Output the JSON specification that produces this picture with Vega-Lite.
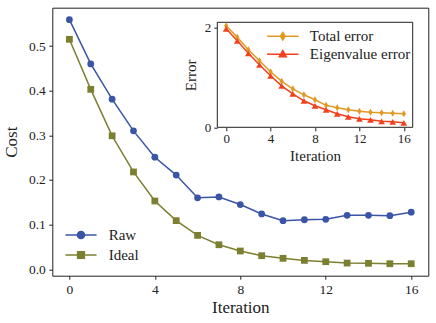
{
  "$schema": "https://vega.github.io/schema/vega-lite/v6.json",
  "width": 376,
  "height": 268,
  "autosize": "none",
  "padding": {"left": 52.3, "top": 7.7, "right": 7.7, "bottom": 47.3},
  "background": "white",
  "config": {
    "font": "Liberation Serif",
    "view": {"stroke": "#222", "strokeWidth": 1},
    "axis": {"domain": false, "grid": false, "tickColor": "#222", "labelColor": "#222", "titleColor": "#222", "titleFontWeight": "normal", "zindex": 1, "labelFont": "Liberation Serif", "titleFont": "Liberation Serif"},
    "legend": {"labelColor": "#222", "padding": 0, "rowPadding": 0, "titlePadding": 0, "labelFont": "Liberation Serif"}
  },
  "datasets": {
    "main": [
      {"iter": 0, "series": "Raw", "cost": 0.559}, {"iter": 1, "series": "Raw", "cost": 0.46}, {"iter": 2, "series": "Raw", "cost": 0.381},
      {"iter": 3, "series": "Raw", "cost": 0.31}, {"iter": 4, "series": "Raw", "cost": 0.251}, {"iter": 5, "series": "Raw", "cost": 0.211},
      {"iter": 6, "series": "Raw", "cost": 0.16}, {"iter": 7, "series": "Raw", "cost": 0.162}, {"iter": 8, "series": "Raw", "cost": 0.145},
      {"iter": 9, "series": "Raw", "cost": 0.124}, {"iter": 10, "series": "Raw", "cost": 0.109}, {"iter": 11, "series": "Raw", "cost": 0.111},
      {"iter": 12, "series": "Raw", "cost": 0.112}, {"iter": 13, "series": "Raw", "cost": 0.121}, {"iter": 14, "series": "Raw", "cost": 0.121},
      {"iter": 15, "series": "Raw", "cost": 0.12}, {"iter": 16, "series": "Raw", "cost": 0.128},
      {"iter": 0, "series": "Ideal", "cost": 0.515}, {"iter": 1, "series": "Ideal", "cost": 0.403}, {"iter": 2, "series": "Ideal", "cost": 0.299},
      {"iter": 3, "series": "Ideal", "cost": 0.218}, {"iter": 4, "series": "Ideal", "cost": 0.153}, {"iter": 5, "series": "Ideal", "cost": 0.109},
      {"iter": 6, "series": "Ideal", "cost": 0.076}, {"iter": 7, "series": "Ideal", "cost": 0.055}, {"iter": 8, "series": "Ideal", "cost": 0.041},
      {"iter": 9, "series": "Ideal", "cost": 0.0305}, {"iter": 10, "series": "Ideal", "cost": 0.0246}, {"iter": 11, "series": "Ideal", "cost": 0.02},
      {"iter": 12, "series": "Ideal", "cost": 0.017}, {"iter": 13, "series": "Ideal", "cost": 0.014}, {"iter": 14, "series": "Ideal", "cost": 0.0134},
      {"iter": 15, "series": "Ideal", "cost": 0.0125}, {"iter": 16, "series": "Ideal", "cost": 0.0125}
    ],
    "inset": [
      {"iter": 0, "series": "Total error", "error": 2.03}, {"iter": 1, "series": "Total error", "error": 1.8}, {"iter": 2, "series": "Total error", "error": 1.55},
      {"iter": 3, "series": "Total error", "error": 1.33}, {"iter": 4, "series": "Total error", "error": 1.11}, {"iter": 5, "series": "Total error", "error": 0.92},
      {"iter": 6, "series": "Total error", "error": 0.77}, {"iter": 7, "series": "Total error", "error": 0.65}, {"iter": 8, "series": "Total error", "error": 0.55},
      {"iter": 9, "series": "Total error", "error": 0.44}, {"iter": 10, "series": "Total error", "error": 0.39}, {"iter": 11, "series": "Total error", "error": 0.35},
      {"iter": 12, "series": "Total error", "error": 0.32}, {"iter": 13, "series": "Total error", "error": 0.3}, {"iter": 14, "series": "Total error", "error": 0.29},
      {"iter": 15, "series": "Total error", "error": 0.28}, {"iter": 16, "series": "Total error", "error": 0.27},
      {"iter": 0, "series": "Eigenvalue error", "error": 1.97}, {"iter": 1, "series": "Eigenvalue error", "error": 1.73}, {"iter": 2, "series": "Eigenvalue error", "error": 1.48},
      {"iter": 3, "series": "Eigenvalue error", "error": 1.25}, {"iter": 4, "series": "Eigenvalue error", "error": 1.03}, {"iter": 5, "series": "Eigenvalue error", "error": 0.83},
      {"iter": 6, "series": "Eigenvalue error", "error": 0.67}, {"iter": 7, "series": "Eigenvalue error", "error": 0.53}, {"iter": 8, "series": "Eigenvalue error", "error": 0.43},
      {"iter": 9, "series": "Eigenvalue error", "error": 0.35}, {"iter": 10, "series": "Eigenvalue error", "error": 0.27}, {"iter": 11, "series": "Eigenvalue error", "error": 0.21},
      {"iter": 12, "series": "Eigenvalue error", "error": 0.17}, {"iter": 13, "series": "Eigenvalue error", "error": 0.15}, {"iter": 14, "series": "Eigenvalue error", "error": 0.12},
      {"iter": 15, "series": "Eigenvalue error", "error": 0.11}, {"iter": 16, "series": "Eigenvalue error", "error": 0.09}
    ]
  },
  "layer": [
    {
      "data": {"name": "main"},
      "encoding": {
        "x": {"field": "iter", "type": "quantitative"},
        "y": {"field": "cost", "type": "quantitative"}
      },
      "layer": [
        {
          "transform": [{"filter": "datum.series === 'Raw'"}],
          "mark": {"type": "line", "strokeWidth": 1.5, "color": "#3a55a5"},
          "encoding": {
            "x": {"field": "iter", "type": "quantitative", "scale": {"domain": [-0.8, 16.8], "nice": false, "zero": false},
              "axis": {"orient": "bottom", "values": [0, 4, 8, 12, 16], "tickSize": 3.5, "labelPadding": 3, "labelFontSize": 13.5, "labelFont": "Liberation Serif", "title": "Iteration", "titleFontSize": 17, "titlePadding": 3.5}},
            "y": {"field": "cost", "type": "quantitative", "scale": {"domain": [-0.0143, 0.5858], "nice": false, "zero": false},
              "axis": {"orient": "left", "values": [0, 0.1, 0.2, 0.3, 0.4, 0.5], "format": ".1f", "tickSize": 3.5, "labelPadding": 3.5, "labelFontSize": 13.5, "labelFont": "Liberation Serif", "title": "Cost", "titleFontSize": 17, "titlePadding": 8}}
          }
        },
        {
          "transform": [{"filter": "datum.series === 'Ideal'"}],
          "mark": {"type": "line", "strokeWidth": 1.5, "color": "#7d7f30"}
        },
        {
          "transform": [{"filter": "datum.series === 'Raw'"}],
          "mark": {"type": "point", "shape": "circle", "filled": true, "opacity": 1, "size": 46, "color": "#3a55a5"}
        },
        {
          "transform": [{"filter": "datum.series === 'Ideal'"}],
          "mark": {"type": "point", "shape": "square", "filled": true, "opacity": 1, "size": 46, "color": "#7d7f30"}
        },
        {
          "transform": [{"filter": "false"}],
          "mark": {"type": "point", "filled": true, "opacity": 1, "size": 441, "strokeWidth": 1.5},
          "encoding": {
            "color": {"field": "series", "type": "nominal", "scale": {"domain": ["Raw", "Ideal"], "range": ["#3a55a5", "#7d7f30"]},
              "legend": {"title": null, "orient": "none", "legendX": 17.2, "legendY": 215.8, "labelFontSize": 15, "labelFont": "Liberation Serif", "labelOffset": 16.2, "symbolSize": 441, "symbolStrokeWidth": 1.5}},
            "stroke": {"field": "series", "type": "nominal", "scale": {"domain": ["Raw", "Ideal"], "range": ["#3a55a5", "#7d7f30"]},
              "legend": {"title": null, "orient": "none", "legendX": 17.2, "legendY": 215.8, "labelFontSize": 15, "labelFont": "Liberation Serif", "labelOffset": 16.2, "symbolSize": 441, "symbolStrokeWidth": 1.5}},
            "shape": {"field": "series", "type": "nominal", "scale": {"domain": ["Raw", "Ideal"], "range": ["M-1.48,0H1.48M0.34,0A0.34,0.34 0 1 1 -0.34,0A0.34,0.34 0 1 1 0.34,0Z", "M-1.48,0H1.48M-0.32,-0.32H0.32V0.32H-0.32Z"]},
              "legend": {"title": null, "orient": "none", "legendX": 17.2, "legendY": 215.8, "labelFontSize": 15, "labelFont": "Liberation Serif", "labelOffset": 16.2, "symbolSize": 441, "symbolStrokeWidth": 1.5}}
          }
        }
      ]
    },
    {
      "layer": [
        {
          "data": {"values": [{}]},
          "mark": {"type": "rect", "fill": "white", "stroke": "#222", "strokeWidth": 1},
          "encoding": {
            "x": {"datum": -0.8, "type": "quantitative"},
            "x2": {"datum": 16.8},
            "y": {"datum": 0, "type": "quantitative"},
            "y2": {"datum": 2.1}
          }
        },
        {
          "data": {"name": "inset"},
          "encoding": {
            "x": {"field": "iter", "type": "quantitative"},
            "y": {"field": "error", "type": "quantitative"}
          },
          "layer": [
            {
              "transform": [{"filter": "datum.series === 'Total error'"}],
              "mark": {"type": "line", "strokeWidth": 1.5, "color": "#e09a23"},
              "encoding": {
                "x": {"field": "iter", "type": "quantitative", "scale": {"domain": [-0.8, 16.8], "range": [165, 360.4], "nice": false, "zero": false},
                  "axis": {"orient": "bottom", "offset": -148.4, "values": [0, 4, 8, 12, 16], "tickSize": 3.5, "labelPadding": 2, "labelFontSize": 13, "labelFont": "Liberation Serif", "title": "Iteration", "titleFontSize": 15, "titlePadding": 2.5}},
                "y": {"field": "error", "type": "quantitative", "scale": {"domain": [0, 2.1], "range": [119.6, 14.6], "nice": false, "zero": false},
                  "axis": {"orient": "left", "offset": -165, "values": [0, 1, 2], "format": "d", "tickSize": 3.5, "labelPadding": 3, "labelFontSize": 13, "labelFont": "Liberation Serif", "title": "Error", "titleFontSize": 15, "titlePadding": 6}}
              }
            },
            {
              "transform": [{"filter": "datum.series === 'Eigenvalue error'"}],
              "mark": {"type": "line", "strokeWidth": 1.5, "color": "#f2411c"}
            },
            {
              "transform": [{"filter": "datum.series === 'Total error'"}],
              "mark": {"type": "point", "shape": "M0,-1L0.6,0L0,1L-0.6,0Z", "filled": true, "opacity": 1, "size": 50, "color": "#e09a23"}
            },
            {
              "transform": [{"filter": "datum.series === 'Eigenvalue error'"}],
              "mark": {"type": "point", "shape": "triangle-up", "filled": true, "opacity": 1, "size": 45, "color": "#f2411c"}
            },
            {
              "transform": [{"filter": "false"}],
              "mark": {"type": "point", "filled": true, "opacity": 1, "size": 279, "strokeWidth": 1.5},
              "encoding": {
                "color": {"field": "series", "type": "nominal", "scale": {"domain": ["Total error", "Eigenvalue error"], "range": ["#e09a23", "#f2411c"]},
                  "legend": {"title": null, "orient": "none", "legendX": 221, "legendY": 19, "labelFontSize": 15, "labelFont": "Liberation Serif", "labelOffset": 17.5, "symbolSize": 279, "symbolStrokeWidth": 1.5}},
                "stroke": {"field": "series", "type": "nominal", "scale": {"domain": ["Total error", "Eigenvalue error"], "range": ["#e09a23", "#f2411c"]},
                  "legend": {"title": null, "orient": "none", "legendX": 221, "legendY": 19, "labelFontSize": 15, "labelFont": "Liberation Serif", "labelOffset": 17.5, "symbolSize": 279, "symbolStrokeWidth": 1.5}},
                "shape": {"field": "series", "type": "nominal", "scale": {"domain": ["Total error", "Eigenvalue error"], "range": ["M-1.88,0H1.88M0,-0.46L0.28,0L0,0.46L-0.28,0Z", "M-1.88,0H1.88M0,-0.44L0.42,0.3L-0.42,0.3Z"]},
                  "legend": {"title": null, "orient": "none", "legendX": 221, "legendY": 19, "labelFontSize": 15, "labelFont": "Liberation Serif", "labelOffset": 17.5, "symbolSize": 279, "symbolStrokeWidth": 1.5}}
              }
            }
          ]
        }
      ]
    }
  ],
  "resolve": {
    "scale": {"x": "independent", "y": "independent", "color": "independent", "stroke": "independent", "shape": "independent"},
    "axis": {"x": "independent", "y": "independent"},
    "legend": {"color": "independent", "stroke": "independent", "shape": "independent"}
  }
}
